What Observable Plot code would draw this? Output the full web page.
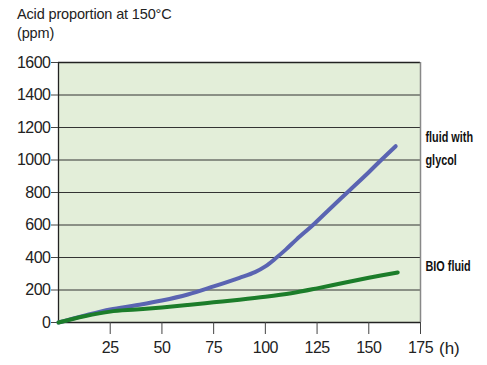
<!DOCTYPE html>
<html>
<head>
<meta charset="utf-8">
<script src="https://cdn.jsdelivr.net/npm/d3@7"></script>
<script src="https://cdn.jsdelivr.net/npm/@observablehq/plot@0.6"></script>
<style>
  html, body { margin: 0; padding: 0; background: #fff; }
  #wrap { position: relative; width: 487px; height: 365px; font-family: "Liberation Sans", Arial, Helvetica, sans-serif; }
  #title { position: absolute; left: 17px; top: 5px; font-size: 14.5px; line-height: 19px; color: #222; letter-spacing: -0.15px; }
  #unit { position: absolute; left: 439px; top: 339px; font-size: 17px; color: #222; }
</style>
</head>
<body>
<div id="wrap">
  <div id="chart"></div>
  <div id="title">Acid proportion at 150°C<br>(ppm)</div>
  <div id="unit">(h)</div>
</div>
<script>
// Time (h) and acid proportion (ppm)
const glycolHours = [0, 12.5, 25, 37.5, 50, 62.5, 75, 87.5, 95, 100, 105, 110, 115, 123, 130, 140, 150, 156, 163];
const glycolPpm   = [0, 42, 80, 106, 135, 172, 222, 275, 310, 345, 395, 450, 510, 600, 685, 805, 925, 1000, 1085];
const bioHours = [0, 12.5, 25, 37.5, 50, 62.5, 75, 87.5, 100, 112.5, 125, 137.5, 150, 164];
const bioPpm   = [0, 38, 67, 80, 93, 108, 124, 140, 158, 180, 210, 243, 275, 308];
const xTicks = [25, 50, 75, 100, 125, 150, 175];
const yTicks = [0, 200, 400, 600, 800, 1000, 1200, 1400, 1600];
const gridLines = [200, 400, 600, 800, 1000, 1200, 1400];
const labelTexts = ["fluid with", "glycol", "BIO fluid"];
const labelValues = [1141, 998, 348];

const glycol = glycolHours.map((h, i) => ({h, v: glycolPpm[i]}));
const bio = bioHours.map((h, i) => ({h, v: bioPpm[i]}));
const labels = labelTexts.map((t, i) => ({t, v: labelValues[i]}));

const chart = Plot.plot({
  width: 487,
  height: 365,
  marginTop: 62,
  marginLeft: 58,
  marginRight: 67,
  marginBottom: 43,
  style: {fontFamily: '"Liberation Sans", Arial, sans-serif', color: "#222", background: "transparent"},
  x: {domain: [0, 175], label: null},
  y: {domain: [0, 1600], label: null},
  marks: [
    Plot.frame({fill: "#e3eed9", stroke: null}),
    Plot.ruleY(gridLines, {stroke: "#333", strokeWidth: 1}),
    Plot.ruleY([0], {stroke: "#222", strokeWidth: 1.3}),
    Plot.ruleY([1600], {stroke: "#222", strokeWidth: 1.3}),
    Plot.ruleX([0], {stroke: "#222", strokeWidth: 1.3}),
    Plot.ruleX([175], {stroke: "#888", strokeWidth: 1.5}),
    Plot.axisX({ticks: xTicks, tickSize: 12, stroke: "#444", tickFormat: () => ""}),
    Plot.axisY({ticks: yTicks, tickSize: 7, stroke: "#444", tickFormat: () => ""}),
    Plot.text(xTicks, {x: d => d, frameAnchor: "bottom", dy: 30, text: d => String(d), fontSize: 16, fill: "#222", className: "tick"}),
    Plot.text(yTicks, {y: d => d, frameAnchor: "left", dx: -8, textAnchor: "end", text: d => String(d), fontSize: 16, fill: "#222", className: "tick"}),
    Plot.line(glycol, {x: "h", y: "v", stroke: "#5a64b2", strokeWidth: 4, curve: "catmull-rom"}),
    Plot.line(bio, {x: "h", y: "v", stroke: "#1c7d2a", strokeWidth: 4, curve: "catmull-rom"}),
    Plot.text(labels, {x: () => 175, y: "v", text: "t", textAnchor: "start", dx: 5, fill: "#111", fontSize: 15.5, fontWeight: "bold", className: "lab"})
  ]
});
document.getElementById("chart").appendChild(chart);

chart.querySelectorAll("g.tick text").forEach(t => { t.style.letterSpacing = "-0.5px"; });
// series labels: horizontally condensed (narrow bold face in the original)
chart.querySelectorAll("g.lab text").forEach(t => {
  const tr = t.getAttribute("transform");
  if (tr && /translate/.test(tr)) {
    t.setAttribute("transform", tr + " scale(0.7,1)");
  } else {
    const x = +t.getAttribute("x") || 0, y = +t.getAttribute("y") || 0;
    t.setAttribute("transform", `translate(${x},${y}) scale(0.7,1) translate(${-x},${-y})`);
  }
});
</script>
</body>
</html>
